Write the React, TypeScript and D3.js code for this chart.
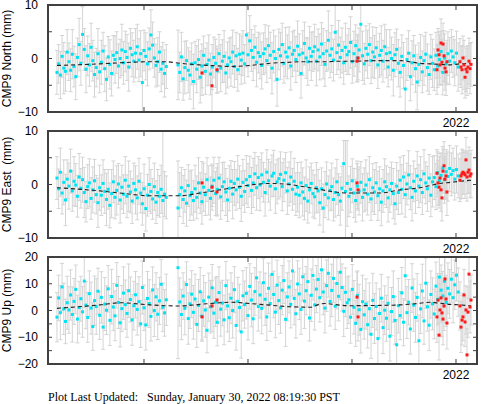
import React from 'react'
import * as d3 from 'd3'

// --- data (mm) ---
// final (cyan) solutions: two runs of 6-day epochs with a gap in spring 2019
const segStart = [2018.163, 2019.327]
const stepDays = 6

const northA = [-2.6, -1.0, -3.1, 0.4, -1.8, -2.4, 1.2, -0.6, -2.2, 0.8, -1.5, -3.4, 0.2, 2.6, -0.9, 4.5, 1.7, -2.0, 0.5, -1.2, 2.1, -0.4, -3.0, -1.7, 0.9, -2.5, -0.7, 1.4, -1.9, -3.9, 0.3, -1.1, -2.8, 0.6, -0.2, 1.1, -1.4, 0.0, 1.6, -0.8, 1.3, 0.2, -1.6, 1.9, 0.7, -0.5, 1.0, 2.2, -0.3, 0.9, -4.5, 1.5, 0.4, -1.0, 1.8, 4.4, 2.5, 0.1, -1.3, -0.6, 1.2, -2.0, -0.9, -2.8, -1.5]
const northB = [-1.2, -2.6, 0.3, -3.8, -1.7, -0.4, -2.2, -3.1, -1.0, -4.3, -0.8, -2.0, -0.2, -3.5, -1.4, 0.6, -2.4, -1.1, -0.3, -2.9, -1.6, 0.2, -0.9, -2.3, 0.9, -1.8, -0.5, 0.4, -2.7, -1.2, 0.1, -0.6, 1.2, -1.5, 0.5, -2.1, 0.8, -0.3, 1.0, -1.0, 4.4, 0.7, 3.3, 1.5, 0.2, 2.1, -0.7, 1.1, 0.4, -1.3, 0.9, 1.8, -0.4, 2.4, 0.6, -1.8, 1.3, 0.0, -3.9, 1.7, 0.5, 2.6, -0.9, 1.2, 0.3, 2.0, -1.4, 0.8, 1.5, -0.2, 2.3, 0.7, -2.8, 1.0, 2.8, 0.1, -0.6, 1.9, 0.4, 1.3, 2.2, -0.5, 1.6, 0.3, 2.7, 0.9, -1.1, 1.4, 3.4, 0.6, 1.8, -0.3, 4.9, 1.1, 2.5, 0.2, 1.5, -0.8, 2.1, 0.7, 1.3, 3.0, -0.6, 0.9, 2.4, 0.1, 1.6, 6.4, 0.5, -1.0, 1.9, 0.8, 2.6, -0.4, 1.2, 0.3, 2.0, -1.2, 0.6, 1.5, -0.5, 2.2, 0.9, -1.6, 1.1, 0.0, -2.2, 0.7, 1.7, -0.9, -2.6, 0.4, -1.3, -5.7, -0.2, 1.0, -3.4, -0.8, 0.5, -1.9, -4.4, -1.1, 0.2, -2.5, -0.4, 0.8, -1.7, -3.0, 0.3, -0.9, -2.1, 0.6, -1.4, -0.2, 1.3, -2.6, 0.1, -1.0, 0.9, -0.5, 1.4, 0.3, -0.8, 1.0, -1.6]
const sigNorthA = [4.1, 3.6, 4.4, 3.9, 4.8, 3.7, 4.2, 3.5, 4.0, 4.6, 3.8, 4.3, 3.6, 4.9, 4.1, 5.2, 3.9, 4.4, 3.7, 4.0, 4.5, 3.8, 4.2, 3.6, 4.7, 3.9, 4.1, 3.5, 4.3, 4.0, 3.8, 4.6, 4.2, 3.7, 4.4, 3.9, 4.1, 3.6, 4.8, 4.0, 3.8, 4.3, 4.5, 3.7, 4.1, 3.9, 4.6, 4.2, 4.0, 4.3, 6.2, 3.8, 4.4, 4.1, 3.9, 4.7, 4.3, 3.6, 4.0, 4.5, 3.8, 4.2, 3.9, 4.4, 4.1]
const sigNorthB = [6.5, 3.8, 4.6, 4.0, 4.9, 3.7, 4.2, 4.5, 3.9, 5.1, 4.0, 4.4, 3.7, 4.8, 4.1, 3.6, 4.3, 4.0, 4.7, 3.9, 4.2, 3.8, 4.5, 4.1, 3.6, 4.4, 4.0, 4.8, 3.9, 4.3, 3.7, 4.6, 4.1, 3.9, 4.4, 4.0, 3.8, 4.5, 4.2, 3.6, 6.0, 4.1, 4.7, 3.9, 4.3, 4.0, 4.6, 3.8, 4.2, 4.4, 3.9, 4.5, 4.1, 3.7, 4.3, 4.8, 4.0, 4.2, 5.0, 3.8, 4.4, 4.0, 3.7, 4.6, 4.1, 3.9, 4.5, 4.2, 3.8, 4.3, 4.7, 3.9, 4.6, 4.2, 4.0, 3.8, 4.4, 4.1, 4.5, 3.7, 4.2, 4.6, 3.9, 4.3, 4.0, 4.7, 4.1, 3.8, 5.5, 4.2, 4.4, 3.9, 5.3, 4.1, 4.6, 3.8, 4.2, 4.0, 4.5, 3.7, 4.3, 4.8, 4.0, 4.2, 3.9, 4.4, 4.1, 6.5, 4.6, 3.8, 4.2, 4.5, 3.9, 4.3, 4.7, 4.0, 3.8, 4.4, 4.1, 4.6, 3.9, 4.2, 4.5, 3.7, 4.3, 4.0, 4.8, 4.1, 3.8, 4.4, 4.6, 4.0, 4.3, 4.9, 3.9, 4.2, 4.5, 4.1, 3.8, 4.4, 5.2, 4.0, 4.3, 3.9, 4.6, 4.1, 4.4, 3.7, 4.2, 4.5, 3.9, 4.3, 4.0, 4.6, 3.8, 4.2, 4.5, 3.9, 4.1, 4.4, 4.0, 3.8, 4.3, 4.1, 4.5]

const eastA = [1.2, -0.8, 2.3, -1.6, 0.4, -2.9, 1.0, -0.3, 2.5, -1.2, 0.6, -0.1, -2.2, 1.4, -0.7, 0.9, -1.5, -3.2, -0.4, 0.3, -2.6, -1.0, 0.7, -1.9, -3.4, -0.6, -2.0, 0.2, -1.3, -2.8, -0.9, -3.9, -1.7, 0.5, -2.4, -1.1, 0.1, -2.9, -0.5, -1.8, 0.8, -2.2, -0.3, -1.4, -3.1, 0.2, -1.0, -2.5, 0.6, -1.6, -3.6, -0.8, -4.5, -2.0, 0.0, -1.3, -2.7, -0.4, -3.3, -1.5, -2.2, -0.9, -3.0, -1.8, -2.4]
const eastB = [-4.4, -1.9, -0.6, -2.8, -1.2, -3.5, -0.2, -2.1, -1.5, -3.0, -0.8, -2.4, 0.3, -1.6, -3.2, -0.5, -1.9, 0.9, -1.1, -2.6, -0.3, 0.8, -1.7, -0.9, 1.2, -2.3, -0.4, 0.5, -1.4, -2.9, -0.7, 0.6, -1.8, 0.2, -1.0, 1.0, -0.5, -2.2, 0.4, -1.3, 0.9, -0.2, 1.5, -1.1, 0.3, 2.0, -0.6, 1.3, -0.1, 1.8, 0.4, -1.5, 2.3, 0.7, -0.3, 1.6, 2.1, -0.8, 0.5, 1.1, 1.9, -0.4, 0.8, 2.2, -1.2, 0.1, 1.4, -0.9, 0.6, -1.8, -0.5, -2.0, 0.3, -1.4, -2.6, -0.2, -3.1, -1.0, 0.2, -1.7, -2.3, -0.6, -1.2, -3.4, -0.8, -4.4, -1.9, 0.1, -2.5, -1.1, -0.4, -2.8, -1.5, 0.5, -1.9, -3.1, -0.7, 3.9, -1.3, 0.2, -2.2, -0.9, 0.7, -1.6, -3.0, -0.3, -1.2, 0.4, -2.4, -1.0, -0.1, -1.8, 0.9, -2.7, -0.6, -1.4, 0.3, -2.1, -0.8, -3.3, -1.2, 0.5, -0.4, -2.5, -1.0, 0.2, -1.7, -3.6, -0.3, -1.5, 0.8, -0.9, 1.4, -1.9, 0.1, 1.8, -0.6, -2.4, 0.6, -1.2, 1.6, -0.3, 0.9, -1.5, 2.0, 0.3, -0.8, 1.2, -2.0, 0.5, 1.3, -0.4, 2.2, 0.7, 1.7, 3.1, 0.9, 2.4, 1.5, 3.0, 1.9, 2.6, 1.0, 2.8, 1.6]
const sigEastA = [4.0, 3.7, 4.5, 3.9, 4.2, 4.8, 3.6, 4.3, 4.1, 3.8, 4.6, 4.0, 3.9, 4.4, 3.7, 4.2, 4.7, 3.8, 4.1, 4.5, 3.9, 4.3, 4.0, 3.6, 4.6, 4.2, 3.8, 4.4, 4.1, 4.9, 3.7, 4.2, 4.5, 3.9, 4.0, 4.6, 3.8, 4.3, 4.1, 3.6, 4.4, 4.0, 4.7, 3.9, 4.2, 3.8, 4.5, 4.1, 4.3, 3.7, 4.0, 4.6, 4.2, 3.9, 5.0, 4.1, 3.8, 4.4, 4.0, 4.3, 3.9, 4.5, 13.0, 4.2, 4.0]
const sigEastB = [8.8, 4.1, 3.8, 4.5, 4.0, 4.3, 3.9, 4.6, 4.2, 3.7, 4.4, 4.0, 4.7, 3.8, 4.2, 4.5, 3.9, 4.1, 4.6, 4.0, 3.8, 4.3, 4.1, 4.8, 3.9, 4.2, 4.5, 3.7, 4.4, 4.0, 4.2, 3.9, 4.6, 4.1, 3.8, 4.4, 4.0, 4.7, 4.3, 3.9, 4.5, 4.1, 3.8, 4.3, 4.6, 4.0, 4.2, 3.9, 4.8, 4.1, 3.7, 4.4, 4.2, 4.0, 4.5, 3.9, 4.3, 4.6, 4.1, 3.8, 4.2, 4.5, 4.0, 3.8, 4.4, 4.1, 4.7, 3.9, 4.3, 4.0, 4.6, 4.2, 3.9, 4.5, 4.0, 4.8, 4.1, 4.3, 3.8, 4.4, 4.1, 4.7, 4.0, 4.2, 3.9, 4.5, 4.3, 4.1, 4.1, 3.8, 4.4, 4.0, 4.6, 4.2, 3.9, 4.5, 4.1, 4.3, 9.5, 8.0, 3.8, 4.3, 4.1, 4.6, 4.0, 4.2, 4.5, 3.9, 4.4, 4.1, 4.7, 3.9, 4.3, 4.0, 4.5, 4.2, 3.8, 4.6, 4.1, 4.4, 4.0, 4.3, 3.9, 4.5, 4.2, 4.0, 4.7, 3.8, 4.4, 4.1, 4.3, 4.6, 4.0, 4.2, 3.9, 4.5, 4.1, 4.4, 3.8, 4.2, 4.6, 4.0, 4.3, 4.1, 4.5, 3.9, 4.2, 4.4, 4.0, 4.7, 4.1, 4.3, 3.9, 4.5, 4.2, 4.0, 4.4, 4.1, 4.6, 4.3, 4.0, 4.2, 3.9, 4.4, 4.1]

const upA = [-2.5, 4.7, -0.8, 8.8, 0.6, -4.1, 2.9, 0.2, 5.8, -1.5, 3.4, 7.9, -3.2, 1.1, 4.4, -0.5, 11.0, 2.0, -2.6, 6.3, 0.9, -6.0, 3.7, 1.5, 7.2, -1.8, 4.9, -6.2, 2.4, 0.1, 8.1, -3.7, 5.2, 1.3, -2.0, 9.4, 3.0, -4.6, 0.7, 6.5, 2.2, -1.1, 7.4, 4.1, -3.5, 1.8, 5.9, 0.4, 3.3, -5.0, 8.6, 1.0, -5.4, 4.5, 2.6, -2.2, 7.7, 0.0, 5.1, -1.4, 3.6, 9.8, 1.2, -0.9, 4.0]
const upB = [16.0, 3.2, -1.5, 5.4, 0.8, 9.7, -3.0, 2.5, 6.1, -0.7, 4.3, -5.2, 1.9, 7.0, -2.1, 3.6, 0.2, -7.4, 5.0, 1.4, 8.5, -1.0, 3.1, -4.4, 6.7, 0.5, 2.8, -3.5, 9.3, 1.7, -2.7, 4.6, 0.0, 7.8, -5.6, 3.4, 1.1, -8.0, 5.5, 2.2, 6.4, -1.9, 9.0, 3.9, -3.1, 7.1, 12.2, 1.5, 5.8, 0.8, 10.4, 4.2, -2.4, 8.3, 2.6, 13.5, 6.0, -0.6, 9.5, 3.7, 1.0, 7.6, 11.2, -3.3, 5.1, 8.8, 2.3, 14.8, 4.5, -1.2, 9.9, 6.2, 0.4, 12.6, 3.5, 7.4, 10.8, -2.8, 5.7, 13.1, 2.1, 8.0, 11.6, 4.8, 15.2, 6.9, 0.9, 9.3, 13.9, 3.4, 7.5, 12.0, 1.6, 10.1, 5.3, 14.3, 8.6, -0.3, 6.8, 2.9, 4.0, -2.5, 7.9, 1.2, -4.8, 5.6, 0.3, -7.1, 3.3, -1.6, 2.4, -5.3, 0.7, -8.9, 3.8, -3.0, 1.5, -10.5, -1.1, 4.6, -6.4, 0.1, -2.9, 2.7, -9.6, -0.4, 5.2, -3.7, -12.8, 1.8, -1.9, 6.6, -4.4, 13.0, -0.8, 3.1, -6.9, 8.4, 2.0, -2.6, 4.9, -11.3, 0.6, 7.3, -3.9, 10.2, 1.4, -5.5, 6.0, 2.5, -1.3, 9.1, 4.2, 12.5, 7.6, 5.4, 10.9, 3.0, 8.3, 6.2, 11.7, 4.8, 9.6, 13.2, 6.9]
const sigUpA = [9.2, 8.5, 10.1, 8.8, 9.6, 8.3, 9.9, 8.7, 9.4, 10.3, 8.6, 9.1, 8.9, 9.8, 8.4, 9.5, 10.0, 8.8, 9.3, 8.5, 9.7, 8.9, 9.2, 10.4, 8.6, 9.0, 9.6, 8.3, 9.9, 9.1, 8.7, 9.4, 10.2, 8.8, 9.3, 8.5, 9.7, 9.0, 8.6, 9.8, 9.2, 8.9, 10.0, 8.4, 9.5, 9.1, 8.7, 9.6, 9.3, 8.8, 9.9, 8.5, 9.4, 10.1, 8.9, 9.2, 8.6, 9.7, 9.0, 9.5, 8.8, 9.3, 9.1, 8.7, 9.6]
const sigUpB = [34.0, 9.0, 9.4, 8.7, 9.9, 8.5, 9.6, 9.2, 8.8, 10.0, 9.3, 8.6, 9.7, 9.1, 8.9, 9.5, 10.2, 8.4, 9.0, 9.8, 8.7, 9.4, 9.1, 8.8, 9.6, 10.1, 8.5, 9.3, 9.0, 9.7, 8.9, 9.5, 10.3, 8.6, 9.2, 9.0, 8.7, 9.8, 9.4, 8.8, 9.6, 9.1, 8.5, 10.0, 9.3, 8.9, 9.7, 9.2, 8.6, 9.5, 9.0, 9.8, 8.8, 9.4, 10.4, 9.1, 8.7, 9.6, 9.3, 8.9, 9.5, 9.2, 8.6, 10.1, 9.0, 9.7, 8.8, 9.4, 9.9, 9.1, 8.7, 9.6, 9.3, 8.9, 10.2, 9.0, 9.5, 8.6, 9.8, 9.2, 9.4, 8.8, 9.7, 9.1, 10.0, 8.5, 9.3, 9.6, 8.9, 9.2, 9.8, 9.0, 8.7, 9.5, 9.2, 10.3, 8.8, 9.4, 9.1, 9.6, 8.9, 9.7, 9.3, 10.0, 8.6, 9.2, 9.5, 8.8, 9.9, 9.1, 9.4, 8.7, 9.6, 9.0, 10.1, 9.3, 8.8, 9.5, 9.2, 8.9, 9.7, 9.1, 8.6, 9.8, 9.3, 9.0, 9.6, 8.9, 9.4, 10.2, 9.0, 9.5, 8.8, 9.2, 9.7, 8.5, 9.4, 9.1, 9.8, 9.3, 8.9, 9.6, 9.2, 10.0, 8.7, 9.4, 9.1, 9.5, 8.8, 9.7, 9.3, 9.0, 9.6, 8.9, 9.4, 9.2, 9.8, 9.0, 9.5, 9.1, 8.8, 9.4, 9.2, 9.6, 9.0]

// rapid (red) solutions
const rapidDates = [2019.558, 2019.654, 2019.702, 2021.048, 2021.058, 2021.817, 2021.827, 2021.837, 2021.846, 2021.856, 2021.865, 2021.875, 2021.885, 2021.894, 2021.904, 2021.913, 2022.038, 2022.048, 2022.058, 2022.067, 2022.077, 2022.087, 2022.096, 2022.106, 2022.115, 2022.125, 2022.135, 2022.144]
const rapidNorth = [-2.7, -5.1, -2.1, -0.5, 0.1, -2.1, 1.6, 0.7, -1.2, 2.9, -0.7, 2.7, 0.5, -1.8, -2.5, -0.6, -0.6, -1.6, -2.1, 0.1, -1.2, -3.5, -2.0, -2.5, -1.6, -0.5, -1.9, -1.1]
const rapidEast = [0.3, -0.5, -1.4, 0.3, -1.0, 2.1, 0.3, -0.5, 1.2, -1.0, -2.5, 2.5, 3.5, 1.0, 1.6, -1.4, 0.8, 1.6, 2.0, 2.3, 2.1, 1.8, 4.6, 1.4, 2.3, 2.7, 1.6, 2.0]
const rapidUp = [-2.4, 1.7, 3.9, 5.0, -2.4, -2.4, 3.9, -9.2, 0.2, 4.7, -0.9, -3.2, 1.7, 11.8, 4.3, -4.7, 1.7, -6.2, -3.6, -2.4, 5.8, -4.3, 0.2, -16.6, -0.6, 13.6, 1.3, 3.9]
const rapidSigNorth = [4.2, 5.0, 4.4, 3.9, 4.1, 4.6, 4.0, 4.3, 3.8, 4.5, 4.2, 3.9, 4.7, 4.1, 4.4, 4.0, 4.3, 3.8, 4.5, 4.1, 4.6, 3.9, 4.2, 4.4, 4.0, 4.3, 4.7, 4.1]
const rapidSigEast = [4.0, 4.3, 4.5, 4.1, 3.8, 4.4, 4.2, 3.9, 4.6, 4.0, 4.3, 4.1, 4.5, 3.8, 4.2, 4.4, 4.0, 4.3, 4.6, 4.1, 3.9, 4.4, 4.2, 4.5, 4.0, 4.3, 4.1, 4.4]
const rapidSigUp = [9.1, 9.6, 8.8, 9.4, 9.0, 9.5, 8.7, 9.3, 9.8, 9.1, 8.9, 9.6, 9.2, 9.4, 8.8, 9.7, 9.0, 9.5, 9.3, 8.9, 9.6, 9.2, 9.0, 9.8, 9.4, 9.1, 9.7, 9.3]

// model (dashed) curve knots
const modelYears = [2018.163, 2018.577, 2018.769, 2019.058, 2019.202, 2019.346, 2019.538, 2019.731, 2019.827, 2020.019, 2020.115, 2020.212, 2020.404, 2020.5, 2020.596, 2020.692, 2020.74, 2020.885, 2020.981, 2021.269, 2021.462, 2021.654, 2021.75, 2021.846, 2021.942, 2022.038, 2022.144]
const modelNorth = [-1.3, -1.0, -0.8, -0.6, -0.6, -0.9, -1.2, -1.4, -1.5, -1.3, -1.1, -0.9, -0.7, -0.6, -0.6, -0.6, -0.6, -0.5, -0.5, -0.4, -0.4, -0.9, -1.0, -1.1, -1.2, -1.0, -0.9]
const modelEast = [-0.6, -1.2, -1.6, -2.1, -2.1, -2.1, -1.6, -1.0, -0.7, -0.1, 0.1, 0.2, 0.0, -0.3, -0.6, -0.9, -1.1, -1.5, -1.6, -1.6, -1.0, -0.6, -0.2, 0.2, 0.4, 0.6, 0.8]
const modelUp = [0.8, 2.1, 2.9, 2.1, 1.8, 1.7, 2.3, 2.9, 3.1, 2.6, 2.3, 2.0, 1.4, 1.3, 1.2, 2.4, 2.6, 2.0, 1.8, 1.9, 2.1, 2.7, 3.1, 2.7, 2.3, 2.1, 1.7]

const yearTicks = [2019, 2020, 2021, 2022]
const labelledYear = 2022

const cyan = '#00e4f2'
const red = '#ff1a1a'
const barGray = '#d4d4d4'
const frame = '#404040'
const sans = '"Liberation Sans", Arial, Helvetica, sans-serif'

const plotLeft = 48, plotRight = 477, panelH = 107

const x = d3.scaleLinear().domain([2018.077, 2022.202]).range([plotLeft, plotRight])

const epochs = (start: number, n: number) => d3.range(n).map(i => start + (i * stepDays) / 365.25)
const cyanDates = [...epochs(segStart[0], northA.length), ...epochs(segStart[1], northB.length)]

const panels = [
  { key: 'n', top: 5, label: 'CMP9 North (mm)', lim: 10, minor: d3.range(-10, 11, 5), major: [-10, 0, 10],
    vals: [...northA, ...northB], sig: [...sigNorthA, ...sigNorthB], rv: rapidNorth, rs: rapidSigNorth, model: modelNorth },
  { key: 'e', top: 131, label: 'CMP9 East  (mm)', lim: 10, minor: d3.range(-10, 11, 5), major: [-10, 0, 10],
    vals: [...eastA, ...eastB], sig: [...sigEastA, ...sigEastB], rv: rapidEast, rs: rapidSigEast, model: modelEast },
  { key: 'u', top: 257, label: 'CMP9 Up (mm)', lim: 20, minor: d3.range(-20, 21, 5), major: [-20, -10, 0, 10, 20],
    vals: [...upA, ...upB], sig: [...sigUpA, ...sigUpB], rv: rapidUp, rs: rapidSigUp, model: modelUp },
]

function Panel({ p }: { p: any }) {
  const y = d3.scaleLinear().domain([-p.lim, p.lim]).range([p.top + panelH, p.top])
  const clip = `clip-${p.key}`
  const line = d3.line<number>()
    .x((_, i) => x(modelYears[i]))
    .y(d => y(d))
    .curve(d3.curveMonotoneX)

  const bar = (t: number, v: number, s: number, k: string) => {
    const cx = x(t)
    const y1 = y(v + s), y2 = y(v - s)
    return (
      <g key={k}>
        <line x1={cx} x2={cx} y1={y1} y2={y2} />
        <line x1={cx - 2} x2={cx + 2} y1={y1} y2={y1} />
        <line x1={cx - 2} x2={cx + 2} y1={y2} y2={y2} />
      </g>
    )
  }

  const midY = p.top + panelH / 2
  return (
    <g>
      <defs>
        <clipPath id={clip}>
          <rect x={plotLeft} y={p.top} width={plotRight - plotLeft} height={panelH} />
        </clipPath>
      </defs>
      <g clipPath={`url(#${clip})`}>
        <g stroke={barGray} strokeWidth={1}>
          {p.vals.map((v: number, i: number) => bar(cyanDates[i], v, p.sig[i] ?? 4, 'c' + i))}
          {p.rv.map((v: number, i: number) => bar(rapidDates[i], v, p.rs[i] ?? 4, 'r' + i))}
        </g>
        <g fill={cyan}>
          {p.vals.map((v: number, i: number) => (
            <rect key={i} x={x(cyanDates[i]) - 1.5} y={y(v) - 1.5} width={3} height={3} />
          ))}
        </g>
        <path d={line(p.model) ?? ''} fill="none" stroke="#222" strokeWidth={1.1} strokeDasharray="4,3" />
        <g fill={red}>
          {p.rv.map((v: number, i: number) => (
            <rect key={i} x={x(rapidDates[i]) - 1.5} y={y(v) - 1.5} width={3} height={3} />
          ))}
        </g>
      </g>

      {/* ticks */}
      <g stroke={frame} strokeWidth={1}>
        {yearTicks.map(t => (
          <g key={t}>
            <line x1={x(t)} x2={x(t)} y1={p.top} y2={p.top + 5} />
            <line x1={x(t)} x2={x(t)} y1={p.top + panelH} y2={p.top + panelH - 5} />
          </g>
        ))}
        {p.minor.map((t: number) => (
          <g key={t}>
            <line x1={plotLeft} x2={plotLeft + 4} y1={y(t)} y2={y(t)} />
            <line x1={plotRight} x2={plotRight - 4} y1={y(t)} y2={y(t)} />
          </g>
        ))}
      </g>
      <rect x={plotLeft} y={p.top} width={plotRight - plotLeft} height={panelH} fill="none" stroke={frame} strokeWidth={2} />

      <g fontFamily={sans} fontSize={12} fill="#000">
        {p.major.map((t: number) => (
          <text key={t} x={38} y={y(t)} dy="0.35em" textAnchor="end">
            {t < 0 ? '\u2212' + Math.abs(t) : String(t)}
          </text>
        ))}
        <text x={x(labelledYear)} y={p.top + panelH + 15} textAnchor="middle">{String(labelledYear)}</text>
        <text transform={`translate(11,${midY}) rotate(-90)`} textAnchor="middle" style={{ whiteSpace: 'pre' }}>{p.label}</text>
      </g>
    </g>
  )
}

export default function App() {
  return (
    <svg width={481} height={404} style={{ position: 'absolute', left: 0, top: 0, background: '#fff' }}>
      {panels.map(p => <Panel key={p.key} p={p} />)}
      <text x={48} y={401} fontFamily='"Liberation Serif", "Times New Roman", serif' fontSize={12} style={{ whiteSpace: 'pre' }}>
        {'Plot Last Updated:   Sunday, January 30, 2022 08:19:30 PST'}
      </text>
    </svg>
  )
}
